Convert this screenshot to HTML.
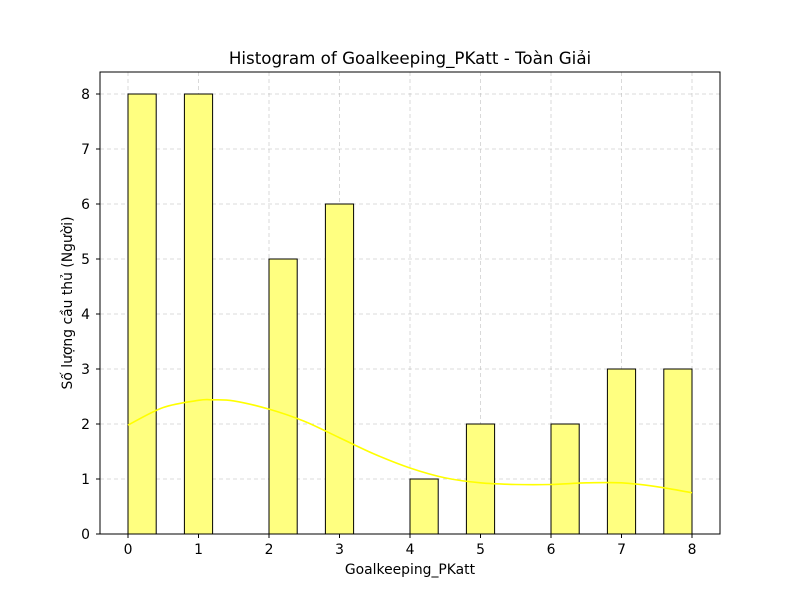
<!DOCTYPE html>
<html><head><meta charset="utf-8">
<style>
body{margin:0;background:#fff;}
svg{display:block;font-family:"DejaVu Sans","Liberation Sans",sans-serif;}
</style></head>
<body>
<svg id="chart" width="800" height="600" viewBox="0 0 800 600">
<rect width="800" height="600" fill="#fff"/>
<g id="grid"></g>
<g id="bars"></g>
<path id="kde" fill="none" stroke="#ffff00" stroke-width="1.6"/>
<rect x="100" y="72" width="620" height="462" fill="none" stroke="#000" stroke-width="1"/>
<g id="ticks"></g>
<text x="410" y="64" text-anchor="middle" font-size="16.7">Histogram of Goalkeeping_PKatt - Toàn Giải</text>
<text x="410" y="574" text-anchor="middle" font-size="13.9">Goalkeeping_PKatt</text>
<text transform="translate(72,303) rotate(-90)" text-anchor="middle" font-size="13.9">Số lượng cầu thủ (Người)</text>
</svg>
<script>
const binStarts=[0,0.8,2.0,2.8,4.0,4.8,6.0,6.8,7.6];
const counts=[8,8,5,6,1,2,2,3,3];
const binWidth=0.4;
const kdeX=[0,0.5,1,1.2,1.5,2,2.5,3,3.5,4,4.5,5,5.5,6,6.5,7,7.5,8];
const kdeY=[1.98,2.3,2.43,2.44,2.42,2.27,2.05,1.75,1.45,1.2,1.02,0.93,0.9,0.9,0.93,0.93,0.86,0.75];
const xTicks=[0,1,2,3,4,5,6,7,8];
const yTicks=[0,1,2,3,4,5,6,7,8];
const NS="http://www.w3.org/2000/svg";
const X=v=>128+v*70.5;
const Y=v=>534-v*55;
function mk(tag,attrs,parent){const e=document.createElementNS(NS,tag);for(const k in attrs)e.setAttribute(k,attrs[k]);parent.appendChild(e);return e;}
const grid=document.getElementById('grid'),bars=document.getElementById('bars'),ticks=document.getElementById('ticks');
xTicks.forEach(t=>{
  const g=mk('line',{x1:X(t),x2:X(t),y1:72,y2:534,stroke:'#b0b0b0','stroke-width':0.8,'stroke-dasharray':'4,3','stroke-opacity':0.6},grid);
  
  
  const tk=mk('line',{x1:X(t),x2:X(t),y1:534,y2:538,stroke:'#000'},ticks);
  
  
  const lb=mk('text',{x:X(t),y:554,'text-anchor':'middle','font-size':13.9},ticks);
  lb.textContent=t;
  
  
});
yTicks.forEach(t=>{
  const g=mk('line',{x1:100,x2:720,y1:Y(t),y2:Y(t),stroke:'#b0b0b0','stroke-width':0.8,'stroke-dasharray':'4,3','stroke-opacity':0.6},grid);
  
  
  const tk=mk('line',{x1:96,x2:100,y1:Y(t),y2:Y(t),stroke:'#000'},ticks);
  
  
  const lb=mk('text',{x:90,y:Y(t)+5,'text-anchor':'end','font-size':13.9},ticks);
  lb.textContent=t;
  
  
});
binStarts.forEach((b,i)=>{
  const r=mk('rect',{x:X(b),y:Y(counts[i]),width:X(b+binWidth)-X(b),height:Y(0)-Y(counts[i]),fill:'#ffff80',stroke:'#000','stroke-width':1},bars);
  
  
});
const pts=kdeX.map((x,i)=>[X(x),Y(kdeY[i])]);
let d=`M${pts[0][0]},${pts[0][1]}`;
for(let i=0;i<pts.length-1;i++){
  const p0=pts[Math.max(i-1,0)],p1=pts[i],p2=pts[i+1],p3=pts[Math.min(i+2,pts.length-1)];
  d+=` C${p1[0]+(p2[0]-p0[0])/6},${p1[1]+(p2[1]-p0[1])/6} ${p2[0]-(p3[0]-p1[0])/6},${p2[1]-(p3[1]-p1[1])/6} ${p2[0]},${p2[1]}`;
}
document.getElementById('kde').setAttribute('d',d);
</script>
</body></html>
